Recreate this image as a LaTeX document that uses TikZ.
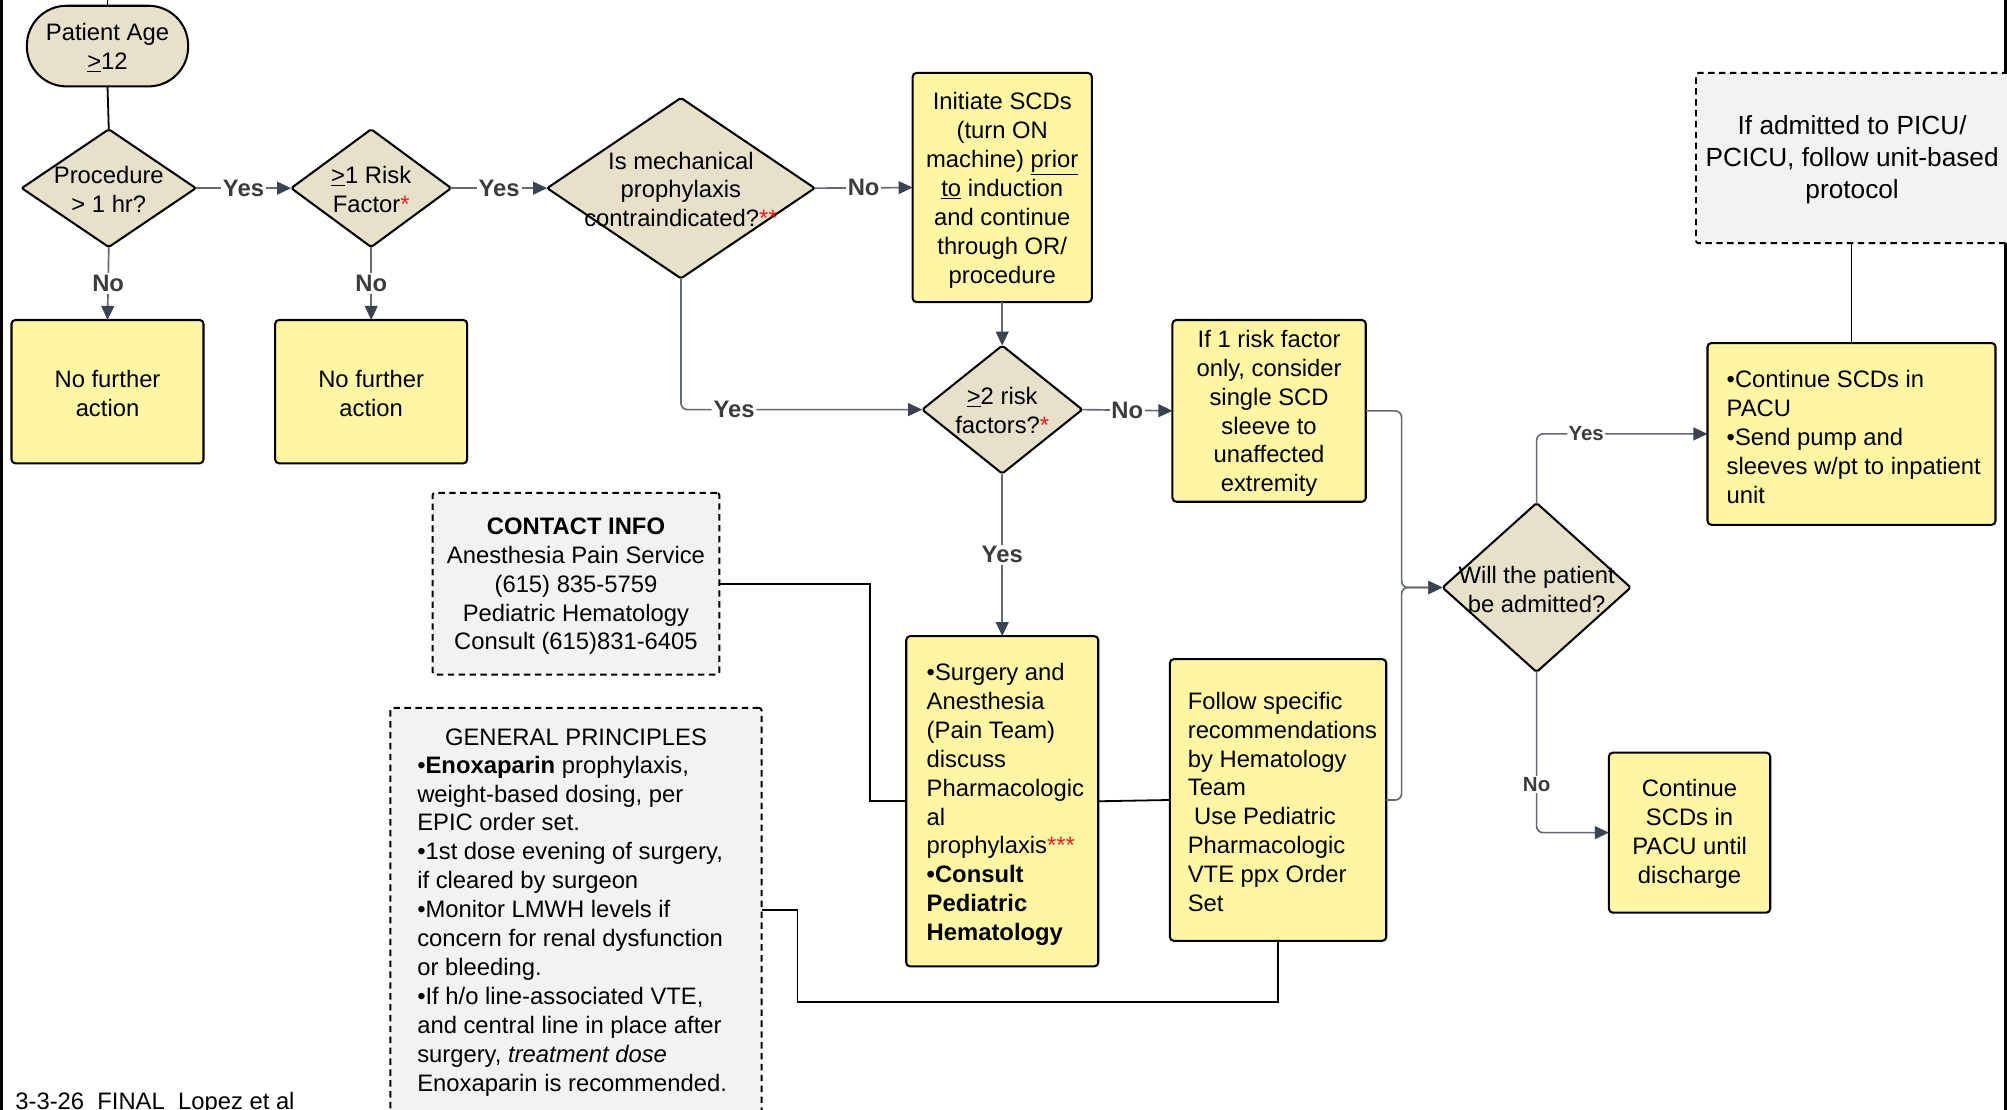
\documentclass[tikz,border=0pt]{standalone}
\usepackage{fontspec}
\setmainfont{Liberation Sans}
\usetikzlibrary{shapes.geometric,arrows.meta,calc}
\definecolor{ylw}{RGB}{255,246,163}
\definecolor{bge}{RGB}{230,225,200}
\definecolor{gbx}{RGB}{242,242,244}
\definecolor{cline}{RGB}{100,106,115}
\definecolor{ahead}{RGB}{60,67,80}
\definecolor{lbltxt}{RGB}{60,60,60}
\definecolor{rd}{RGB}{235,30,35}
\begin{document}
\begin{tikzpicture}[x=1pt,y=-1pt,
  every node/.style={font=\fontsize{18.6}{22.6}\selectfont, inner sep=0pt, outer sep=0pt},
  ybox/.style={rectangle, draw=black, line width=1.6pt, fill=ylw, rounded corners=3pt},
  gbox/.style={rectangle, draw=black, line width=1.5pt, fill=gbx, dash pattern=on 5pt off 3.5pt, rounded corners=2pt},
  dia/.style={diamond, draw=black, line width=1.6pt, fill=bge, rounded corners=1.5pt},
  arr/.style={draw=cline, line width=1.3pt, -{Triangle[length=11pt,width=10pt,color=ahead]}},
  conn/.style={draw=black, line width=1.4pt},
  lbl/.style={font=\bfseries\fontsize{18.6}{22}\selectfont, text=lbltxt, fill=white, inner sep=1.5pt},
  slbl/.style={font=\bfseries\fontsize{16}{19}\selectfont, text=lbltxt, fill=white, inner sep=1pt},
  txt/.style={align=center}
]
\useasboundingbox (0,0) rectangle (1568,867);
% frame lines
\draw[line width=2.5pt] (1.2,0) -- (1.2,867);
\draw[line width=2.5pt] (1566.5,0) -- (1566.5,867);

% ---- shapes ----
\node[rectangle, draw=black, line width=1.6pt, fill=bge, rounded corners=31pt, minimum width=126pt, minimum height=63pt] (age) at (84,36) {};
\node[txt] (aget) at (84,37) {Patient Age\\\underline{>}12};

\node[dia, minimum width=136pt, minimum height=92pt] (proc) at (85,147) {};
\node[txt] (proct) at (85,148) {Procedure\\> 1 hr?};

\node[dia, minimum width=125pt, minimum height=92pt] (risk) at (290,147) {};
\node[txt] (riskt) at (290,148) {\underline{>}1 Risk\\Factor\textcolor{rd}{*}};

\node[ybox, minimum width=150pt, minimum height=112pt] (nfa1) at (84,306) {};
\node[txt] (nfa1t) at (84,307.5) {No further\\action};
\node[ybox, minimum width=150pt, minimum height=112pt] (nfa2) at (290,306) {};
\node[txt] (nfa2t) at (290,307.5) {No further\\action};

\node[dia, minimum width=209pt, minimum height=141pt] (mech) at (532,147) {};
\node[txt] (mecht) at (532,148) {Is mechanical\\prophylaxis\\contraindicated?\textcolor{rd}{**}};

\node[ybox, minimum width=140pt, minimum height=179pt] (init) at (783,146.5) {};
\node[txt] (initt) at (783,148.5) {Initiate SCDs\\(turn ON\\machine) \underline{prior}\\\underline{to} induction\\and continue\\through OR/\\procedure};

\node[dia, minimum width=125pt, minimum height=100pt] (two) at (783,320) {};
\node[txt] (twot) at (783,320.5) {\underline{>}2 risk\\factors?\textcolor{rd}{*}};

\node[ybox, minimum width=151pt, minimum height=142pt] (one) at (991.5,321) {};
\node[txt] (onet) at (991.5,323) {If 1 risk factor\\only, consider\\single SCD\\sleeve to\\unaffected\\extremity};

\node[dia, minimum width=147pt, minimum height=132pt] (will) at (1200.5,459) {};
\node[txt] (willt) at (1200.5,460.5) {Will the patient\\be admitted?};

\node[gbox, minimum width=280pt, minimum height=133pt] (picu) at (1465,123.5) {};
\node[txt, font=\fontsize{20.5}{25}\selectfont] (picut) at (1447,125) {If admitted to PICU/\\PCICU, follow unit-based\\protocol};

\node[ybox, minimum width=225pt, minimum height=142pt] (pacu) at (1446.5,339) {};
\node[align=left, anchor=west] (pacut) at (1349,341.5) {\textbullet Continue SCDs in\\PACU\\\textbullet Send pump and\\sleeves w/pt to inpatient\\unit};

\node[ybox, minimum width=126pt, minimum height=125pt] (disch) at (1320,650.5) {};
\node[txt] (discht) at (1320,651.5) {Continue\\SCDs in\\PACU until\\discharge};

\node[ybox, minimum width=150pt, minimum height=258pt] (surg) at (783,626) {};
\node[align=left, anchor=west] (surgt) at (724,628.5) {\textbullet Surgery and\\Anesthesia\\(Pain Team)\\discuss\\Pharmacologic\\al\\prophylaxis\textcolor{rd}{***}\\\textbf{\textbullet Consult}\\\textbf{Pediatric}\\\textbf{Hematology}};

\node[ybox, minimum width=169pt, minimum height=220pt] (follow) at (998.5,625) {};
\node[align=left, anchor=west] (followt) at (928,626.5) {Follow specific\\recommendations\\by Hematology\\Team\\\hspace*{5pt}Use Pediatric\\Pharmacologic\\VTE ppx Order\\Set};

\node[gbox, minimum width=224pt, minimum height=142pt] (contact) at (450,456) {};
\node[txt] (contactt) at (450,458) {\textbf{CONTACT INFO}\\Anesthesia Pain Service\\(615) 835-5759\\Pediatric Hematology\\Consult (615)831-6405};

\node[gbox, minimum width=290pt, minimum height=330pt] (gen) at (450,718) {};
\node[txt] (gent) at (450,576) {GENERAL PRINCIPLES};
\node[align=left, anchor=north west] (genb) at (326,590.5) {\textbullet\textbf{Enoxaparin} prophylaxis,\\weight-based dosing, per\\EPIC order set.\\\textbullet 1st dose evening of surgery,\\if cleared by surgeon\\\textbullet Monitor LMWH levels if\\concern for renal dysfunction\\or bleeding.\\\textbullet If h/o line-associated VTE,\\and central line in place after\\surgery, \textit{treatment dose}\\Enoxaparin is recommended.};

\node[anchor=base west] (foot) at (12,867) {3-3-26~ FINAL~ Lopez et al};

% ---- connectors ----
\coordinate (top) at (84,0);
\draw[conn] (top) -- (age.north);
\draw[conn] (age.south) -- (proc.north);
\draw[arr] (proc.east) -- node[lbl]{Yes} (risk.west);
\draw[arr] (proc.south) -- node[lbl]{No} (nfa1.north);
\draw[arr] (risk.south) -- node[lbl]{No} (nfa2.north);
\draw[arr] (risk.east) -- node[lbl]{Yes} (mech.west);
\draw[arr] (mech.east) -- node[lbl]{No} (init.west);
\draw[arr] (init.south) -- (two.north);
\draw[arr, rounded corners=5pt] (mech.south) |- node[lbl, pos=0.61]{Yes} (two.west);
\draw[arr] (two.east) -- node[lbl]{No} (one.west);
\draw[arr] (two.south) -- node[lbl]{Yes} (surg.north);
\coordinate (merge) at (1095,459);
\draw[arr, rounded corners=5pt] (one.east) -| (merge) -- (will.west);
\draw[arr, rounded corners=5pt] (follow.east) -| (merge) -- (will.west);
\draw[arr, rounded corners=5pt] (will.north) |- node[slbl, pos=0.645]{Yes} (pacu.west);
\draw[arr, rounded corners=5pt] (will.south) |- node[slbl, pos=0.35]{No} (disch.west);
\draw[conn] (picu.south -| pacu.north) -- (pacu.north);
\coordinate (cx) at (680,456);
\draw[conn] (contact.east) -- (cx) |- (surg.west);
\draw[conn] (surg.east) -- (follow.west);
\coordinate (genout) at (595,711);
\coordinate (gx) at (623,783);
\draw[conn] (genout) -| (gx) -| (follow.south);
\end{tikzpicture}
\end{document}
